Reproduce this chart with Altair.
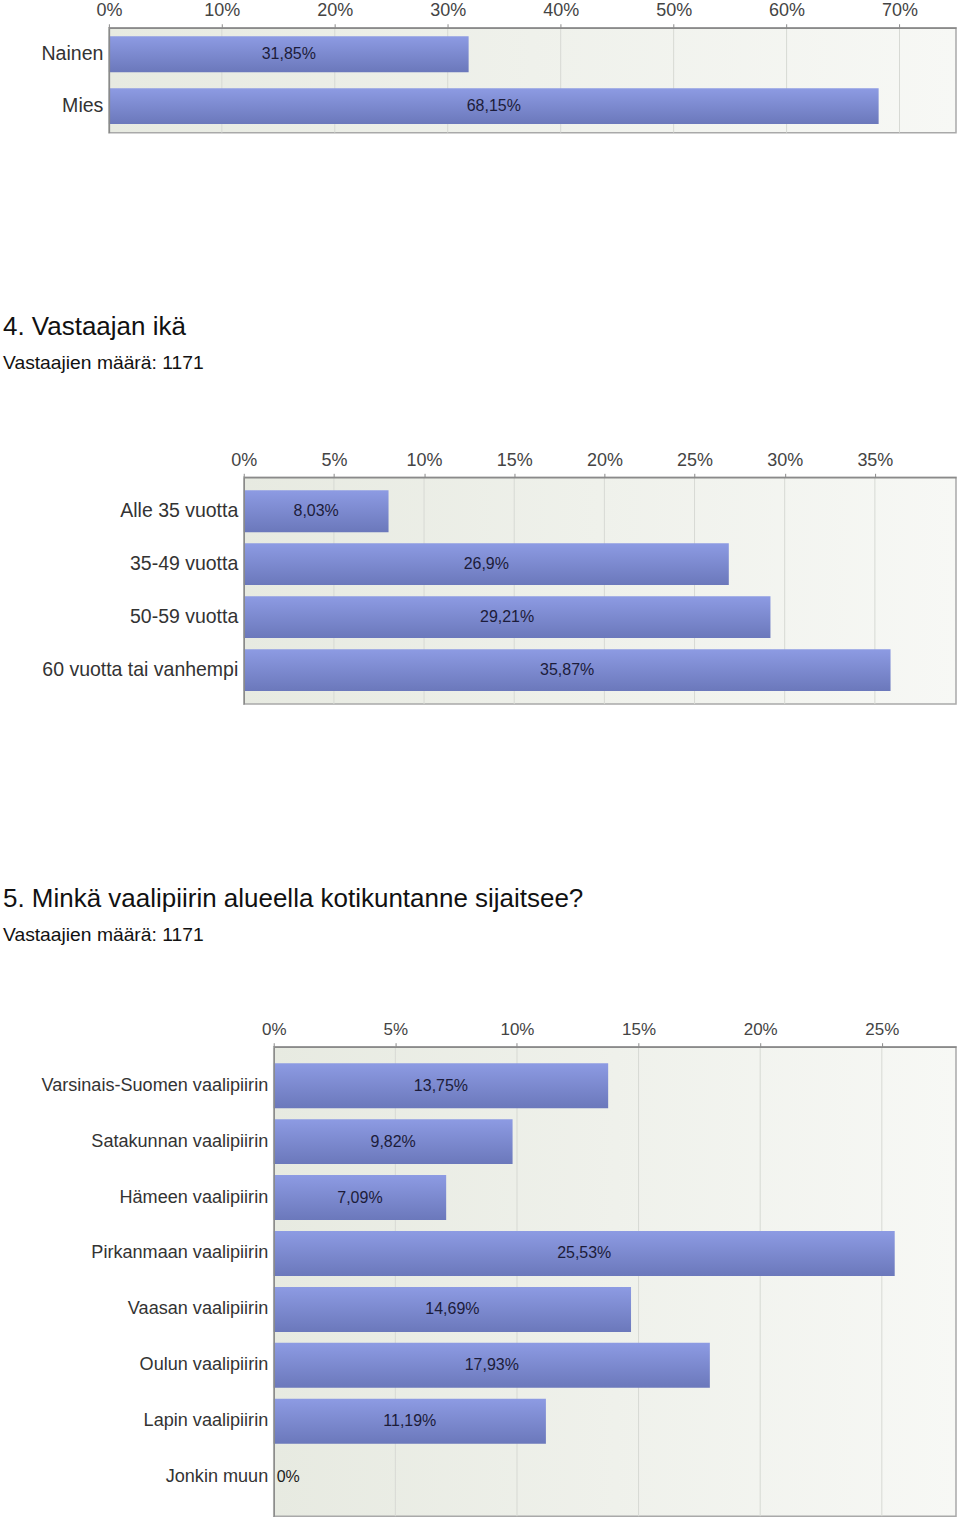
import altair as alt
import pandas as pd

FONT = "Liberation Sans"

# ---- data ----
gender_categories = ["Nainen", "Mies"]
gender_values = [31.85, 68.15]
gender_ticks = [0, 10, 20, 30, 40, 50, 60, 70]

age_categories = ["Alle 35 vuotta", "35-49 vuotta", "50-59 vuotta", "60 vuotta tai vanhempi"]
age_values = [8.03, 26.9, 29.21, 35.87]
age_ticks = [0, 5, 10, 15, 20, 25, 30, 35]

district_categories = [
    "Varsinais-Suomen vaalipiirin",
    "Satakunnan vaalipiirin",
    "Hämeen vaalipiirin",
    "Pirkanmaan vaalipiirin",
    "Vaasan vaalipiirin",
    "Oulun vaalipiirin",
    "Lapin vaalipiirin",
    "Jonkin muun",
]
district_values = [13.75, 9.82, 7.09, 25.53, 14.69, 17.93, 11.19, 0]
district_ticks = [0, 5, 10, 15, 20, 25]

title_age = "4. Vastaajan ikä"
title_district = "5. Minkä vaalipiirin alueella kotikuntanne sijaitsee?"
subtitle_text = "Vastaajien määrä: 1171"

bar_gradient = alt.Gradient(
    gradient="linear",
    stops=[alt.GradientStop(color="#8d9be3", offset=0),
           alt.GradientStop(color="#6b78bb", offset=1)],
    x1=0, x2=0, y1=0, y2=1,
)
bg_gradient = alt.Gradient(
    gradient="linear",
    stops=[alt.GradientStop(color="#e7eae1", offset=0),
           alt.GradientStop(color="#f7f8f5", offset=1)],
    x1=0, x2=1, y1=0, y2=0,
)


def spacer():
    return alt.Chart(pd.DataFrame({"a": [0]})).mark_rect(opacity=0).encode(
        x=alt.value(0), x2=alt.value(1), y=alt.value(0), y2=alt.value(1)
    ).properties(width=1, height=1)


def make_chart(cats, vals, ticks, dmax, width, height, p_in, p_out,
               label_fs, axis_fs, title, dx, offset):
    df = pd.DataFrame({"category": cats, "value": vals})
    xscale = alt.Scale(domain=[0, dmax], nice=False, zero=True)
    yscale = alt.Scale(domain=cats, paddingInner=p_in, paddingOuter=p_out)

    y_axis = alt.Axis(
        title=None, ticks=False, domain=True, domainColor="#8a8a8a",
        domainWidth=1.5, labelFont=FONT, labelFontSize=label_fs,
        labelColor="#333333", labelPadding=6, labelLimit=500, grid=False,
        zindex=1,
    )
    x_axis = alt.Axis(
        orient="top", values=ticks, labelExpr="datum.value + '%'",
        title=None, grid=False, domain=True, domainColor="#8a8a8a",
        domainWidth=1.5, ticks=True, tickColor="#8a8a8a", tickSize=4,
        labelPadding=4, labelFont=FONT, labelFontSize=axis_fs,
        labelColor="#444444", zindex=1, labelFlush=False,
    )

    def yenc():
        return alt.Y("category:N", sort=cats, scale=yscale, axis=y_axis, title=None)

    bg = alt.Chart(pd.DataFrame({"a": [0]})).mark_rect(
        fill=bg_gradient, stroke="#a9a9a9", strokeWidth=1.5
    ).encode(
        x=alt.datum(0, scale=xscale, axis=x_axis, type="quantitative", title=None),
        x2=alt.datum(dmax),
    )

    grid = alt.Chart(pd.DataFrame({"tick": ticks})).mark_rule(
        color="#d7d9d4", strokeWidth=1
    ).encode(x=alt.X("tick:Q", scale=xscale, axis=x_axis, title=None))

    bars = alt.Chart(df).mark_bar(color=bar_gradient).encode(
        y=yenc(),
        x=alt.X("value:Q", scale=xscale, axis=x_axis, title=None),
    )

    label_expr = "replace(toString(datum.value), '.', ',') + '%'"
    texts = alt.Chart(df).transform_filter("datum.value > 0").transform_calculate(
        mid="datum.value / 2", label=label_expr
    ).mark_text(
        align="center", baseline="middle", font=FONT, fontSize=16, color="#1c1c3a"
    ).encode(
        y=yenc(),
        x=alt.X("mid:Q", scale=xscale, axis=x_axis, title=None),
        text="label:N",
    )
    zero_texts = alt.Chart(df).transform_filter("datum.value == 0").transform_calculate(
        label=label_expr
    ).mark_text(
        align="left", baseline="middle", dx=3, font=FONT, fontSize=16, color="#1c1c1c"
    ).encode(
        y=yenc(),
        x=alt.X("value:Q", scale=xscale, axis=x_axis, title=None),
        text="label:N",
    )

    if title is None:
        tp = alt.TitleParams(text=" ", fontSize=1, offset=0, anchor="start",
                             frame="group", dx=dx)
    else:
        tp = alt.TitleParams(
            text=title, subtitle=subtitle_text, anchor="start", frame="group",
            dx=dx, font=FONT, fontSize=26, fontWeight="normal", color="#111111",
            subtitleFont=FONT, subtitleFontSize=19.3, subtitleColor="#111111",
            subtitlePadding=14, offset=offset,
        )

    layered = alt.layer(bg, grid, bars, texts, zero_texts).properties(
        width=width, height=height, title=tp
    )
    # a 1px spacer first in the row, so each panel gets its own left offset
    return alt.hconcat(spacer(), layered, spacing=0)


# page x of plot left = 2 (padding) + 1 (spacer) + (-dx)
c1 = make_chart(gender_categories, gender_values, gender_ticks, 75, 848, 105,
                0.31, 0.165, 19.6, 18, None, -106, 0)
c2 = make_chart(age_categories, age_values, age_ticks, 39.5, 713, 227,
                0.21, 0.245, 19.5, 18, title_age, -241, 78)
c3 = make_chart(district_categories, district_values, district_ticks, 28.05, 683, 470,
                0.196, 0.295, 18.1, 17, title_district, -271, 76)

chart = alt.vconcat(c1, c2, c3, spacing=180).properties(
    padding={"left": 2, "top": 0, "right": 3, "bottom": 3},
    background="white",
).configure_view(stroke=None)

chart.save("out.html", embed_options={"renderer": "svg", "actions": False})
